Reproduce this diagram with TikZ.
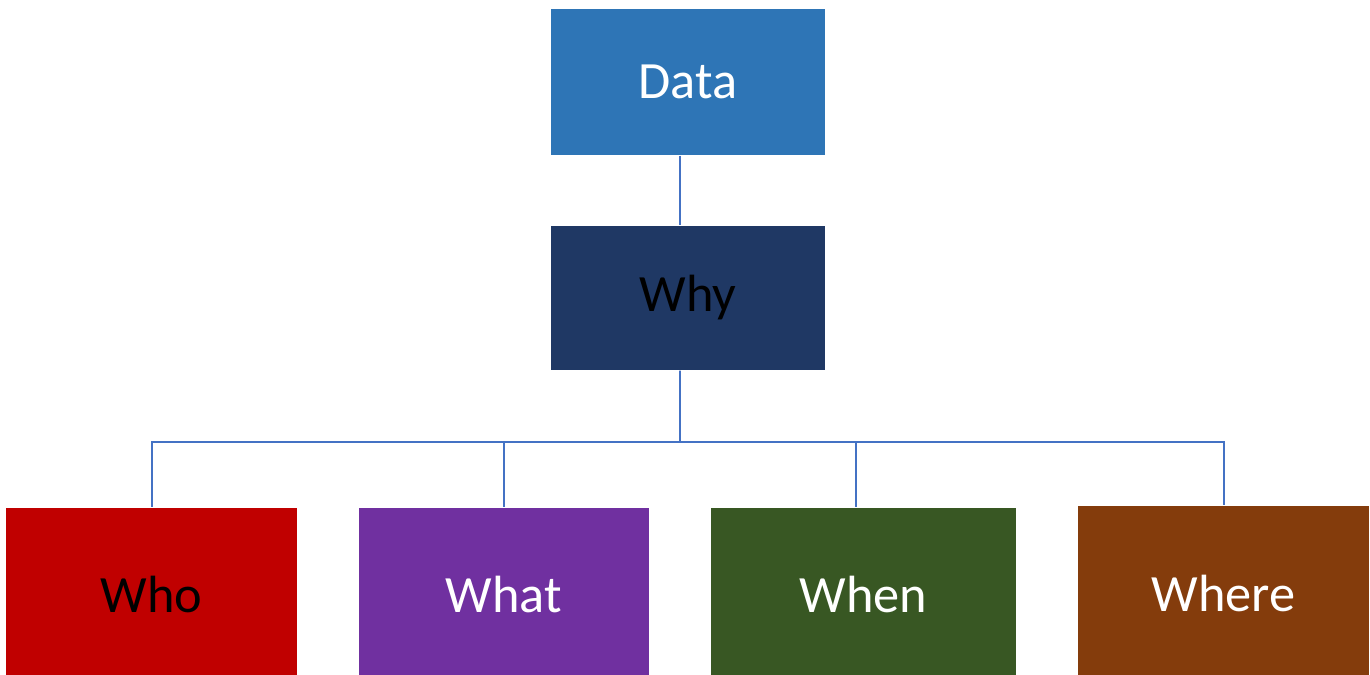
\documentclass[tikz,border=0pt]{standalone}
\usepackage{fontspec}
\setmainfont{Carlito}
\definecolor{dataBlue}{HTML}{2E75B6}
\definecolor{whyNavy}{HTML}{1F3864}
\definecolor{whoRed}{HTML}{C00000}
\definecolor{whatPurple}{HTML}{7030A0}
\definecolor{whenGreen}{HTML}{385723}
\definecolor{whereBrown}{HTML}{843C0C}
\definecolor{linkBlue}{HTML}{4472C4}
\begin{document}
\begin{tikzpicture}[
    box/.style={rectangle, inner sep=0pt, font=\fontsize{14.9}{17}\selectfont},
    link/.style={draw=linkBlue, line width=0.45pt}
  ]
      % Cadre
      \useasboundingbox (0,0) rectangle (13.70,6.75);
      \clip (0,0) rectangle (13.70,6.75);

      % Niveau haut
      \node[box, fill=dataBlue, text=white, minimum width=2.74cm, minimum height=1.46cm] (data) at (6.88,5.93) {Data};
      \node[box, fill=whyNavy, text=black, minimum width=2.74cm, minimum height=1.44cm] (why) at (6.88,3.77) {Why};

      % Niveau bas
      \node[box, fill=whoRed, text=black, minimum width=2.91cm, minimum height=1.74cm] (who) at (1.515,0.80) {Who};
      \node[box, fill=whatPurple, text=white, minimum width=2.90cm, minimum height=1.74cm] (what) at (5.04,0.80) {What};
      \node[box, fill=whenGreen, text=white, minimum width=3.05cm, minimum height=1.74cm] (when) at (8.635,0.80) {When};
      \node[box, fill=whereBrown, text=white, minimum width=2.91cm, minimum height=1.76cm] (where) at (12.235,0.81) {Where};

      % Liens
      \coordinate (bus) at (6.80,2.33);
      \draw[link] ([xshift=-0.08cm]data.south) -- ([xshift=-0.08cm]why.north);
      \draw[link] ([xshift=-0.08cm]why.south) -- (bus);
      \draw[link] (bus) -| ([xshift=0.005cm]who.north);
      \draw[link] (bus) -| (what.north);
      \draw[link] (bus) -| ([xshift=-0.075cm]when.north);
      \draw[link] (bus) -| ([xshift=0.005cm]where.north);
\end{tikzpicture}
\end{document}
